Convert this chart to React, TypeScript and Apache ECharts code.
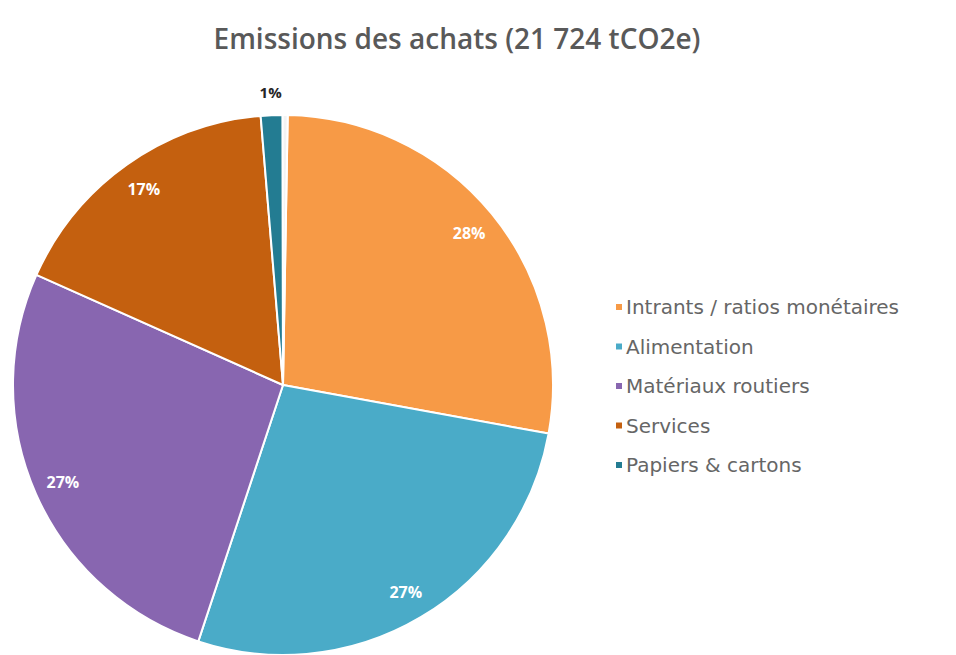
import React, { useEffect, useRef } from "react";
import * as echarts from "echarts";

const TITLE = "Emissions des achats (21 724 tCO2e)";
const categories = [
  "Intrants / ratios monétaires",
  "Alimentation",
  "Matériaux routiers",
  "Services",
  "Papiers & cartons",
  "Autres",
];
const values = [5996, 5909, 5779, 3693, 282, 65];
const colors = ["#f79a46", "#4aabc8", "#8866b0", "#c4600f", "#237c92", "#f3f3f3"];
const legendNames = categories.slice(0, 5);

export default function App() {
  const ref = useRef<HTMLDivElement>(null);
  useEffect(() => {
    document.body.style.margin = "0";
    const chart = echarts.init(ref.current!, null, { renderer: "svg" });
    const R = 270;
    const base = categories.map((name, i) => ({
      name,
      value: values[i],
      itemStyle: { color: colors[i] },
    }));
    const fmt = (p: any) => Math.round(p.percent) + "%";
    const labelStyle = {
      color: "#ffffff",
      fontFamily: "Open Sans",
      fontWeight: "bold",
      fontSize: 16,
    };
    chart.setOption({
      animation: false,
      title: {
        text: TITLE,
        left: 452,
        top: 19,
        textAlign: "center",
        textStyle: {
          fontFamily: "Open Sans",
          fontWeight: 600,
          fontSize: 28,
          color: "#595959",
        },
      },
      legend: {
        orient: "vertical",
        left: 609,
        top: 292,
        data: legendNames,
        icon: "rect",
        itemWidth: 8,
        itemHeight: 8,
        itemGap: 19.5,
        textStyle: {
          fontFamily: "DejaVu Sans",
          fontSize: 20,
          color: "#666666",
          padding: [0, 0, 0, -2],
        },
        selectedMode: false,
      },
      series: [
        {
          type: "pie",
          center: [283, 385],
          radius: [0, R],
          startAngle: 89,
          clockwise: true,
          label: { show: false },
          labelLine: { show: false },
          itemStyle: { borderColor: "#ffffff", borderWidth: 2 },
          data: base,
        },
        {
          type: "pie",
          center: [283, 385],
          radius: [R * 0.76, R],
          startAngle: 89,
          silent: true,
          itemStyle: { color: "transparent", borderWidth: 0 },
          label: { show: true, position: "inside", formatter: fmt, ...labelStyle },
          labelLine: { show: false },
          data: base.map((d, i) => ({
            name: d.name,
            value: d.value,
            itemStyle: { color: "transparent" },
            label: { show: i < 4 },
          })),
        },
        {
          type: "pie",
          center: [283, 385],
          radius: [R + 6, R + 34],
          startAngle: 89,
          silent: true,
          itemStyle: { color: "transparent", borderWidth: 0 },
          label: {
            show: true,
            position: "inside",
            formatter: fmt,
            ...labelStyle,
            fontSize: 15,
            color: "#262626",
          },
          labelLine: { show: false },
          data: base.map((d, i) => ({
            name: d.name,
            value: d.value,
            itemStyle: { color: "transparent" },
            label: { show: i === 4 },
          })),
        },
      ],
    });
    return () => chart.dispose();
  }, []);
  return <div ref={ref} style={{ width: 956, height: 655 }} />;
}
